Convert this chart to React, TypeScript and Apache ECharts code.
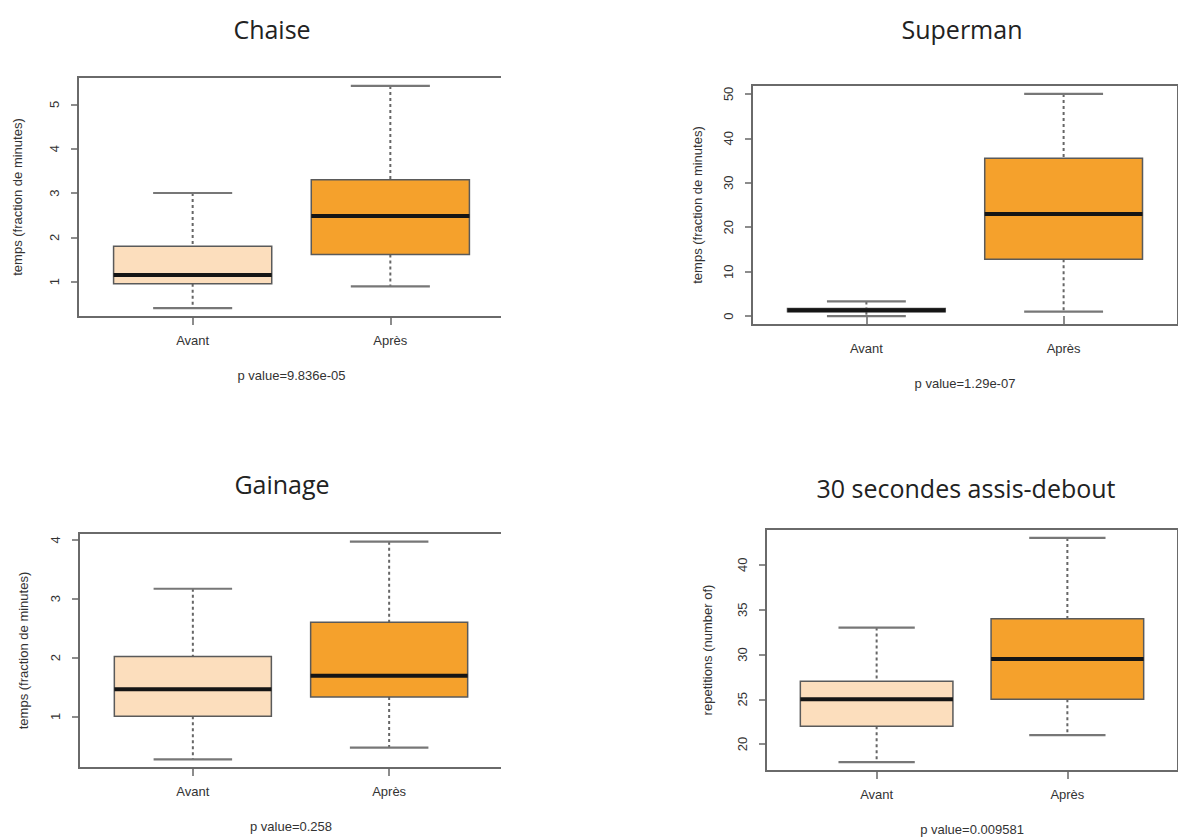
import React, { useEffect, useRef } from 'react';
import * as echarts from 'echarts';

const categories = ['Avant', 'Après'];
const titles = ['Chaise', 'Superman', 'Gainage', '30 secondes assis-debout'];
const yNames = [
  'temps (fraction de minutes)',
  'temps (fraction de minutes)',
  'temps (fraction de minutes)',
  'repetitions (number of)',
];
const pValues = ['p value=9.836e-05', 'p value=1.29e-07', 'p value=0.258', 'p value=0.009581'];

// [low whisker, Q1, median, Q3, high whisker]
const chaiseAvant = [0.4, 0.95, 1.15, 1.8, 3.0];
const chaiseApres = [0.89, 1.61, 2.48, 3.3, 5.42];
const supermanAvant = [0, 1.0, 1.3, 1.7, 3.3];
const supermanApres = [1, 12.8, 23, 35.5, 50];
const gainageAvant = [0.27, 1.0, 1.46, 2.02, 3.17];
const gainageApres = [0.47, 1.33, 1.69, 2.6, 3.97];
const assisAvant = [18, 22, 25, 27, 33];
const assisApres = [21, 25, 29.5, 34, 43];

const panels = [
  [chaiseAvant, chaiseApres],
  [supermanAvant, supermanApres],
  [gainageAvant, gainageApres],
  [assisAvant, assisApres],
];

const yTicks = [
  [1, 2, 3, 4, 5],
  [0, 10, 20, 30, 40, 50],
  [1, 2, 3, 4],
  [20, 25, 30, 35, 40],
];

const fills = ['#FCDEBD', '#F5A12C'];

// layout (pixels)
const grids = [
  { left: 78, top: 77, width: 427, height: 240 },
  { left: 752, top: 85, width: 427, height: 240 },
  { left: 79, top: 533, width: 424, height: 235 },
  { left: 766, top: 529, width: 424, height: 242 },
];
const titlePos = [
  [272, 29],
  [962, 29],
  [282, 484],
  [966, 488],
];
const yNameGap = [54, 48, 49, 52];

const axisFont = '"Liberation Sans", Arial, sans-serif';

export default function App() {
  const ref = useRef<HTMLDivElement>(null);

  useEffect(() => {
    if (!ref.current) return;
    const chart = echarts.init(ref.current, null, { renderer: 'svg' });

    const xAxes: any[] = [];
    const yAxes: any[] = [];
    const series: any[] = [];

    panels.forEach((pair, i) => {
      const all = pair.flat();
      const dmin = Math.min(...all);
      const dmax = Math.max(...all);
      const ext = (dmax - dmin) * 0.04;
      xAxes.push({
        type: 'value',
        gridIndex: i,
        min: 0.42,
        max: 2.58,
        splitLine: { show: false },
        axisLine: { show: false },
        axisTick: {
          show: true,
          customValues: [1, 2],
          length: 8,
          lineStyle: { color: '#666', width: 1.5 },
        },
        axisLabel: {
          customValues: [1, 2],
          formatter: (v: number) => categories[Math.round(v) - 1],
          margin: 17,
          fontFamily: axisFont,
          fontSize: 13,
          color: '#333',
        },
        name: pValues[i],
        nameLocation: 'middle',
        nameGap: 52,
        nameTextStyle: { fontFamily: axisFont, fontSize: 13, color: '#333' },
      });
      yAxes.push({
        type: 'value',
        gridIndex: i,
        min: dmin - ext,
        max: dmax + ext,
        splitLine: { show: false },
        axisLine: { show: false },
        axisTick: {
          show: true,
          customValues: yTicks[i],
          length: 7,
          lineStyle: { color: '#666', width: 1.5 },
        },
        axisLabel: {
          customValues: yTicks[i],
          rotate: 90,
          margin: 17,
          fontFamily: axisFont,
          fontSize: 13,
          color: '#333',
        },
        name: yNames[i],
        nameLocation: 'middle',
        nameGap: yNameGap[i],
        nameRotate: 90,
        nameTextStyle: { fontFamily: axisFont, fontSize: 13, color: '#333' },
      });
      series.push({
        type: 'custom',
        xAxisIndex: i,
        yAxisIndex: i,
        encode: { x: 0, y: [1, 2, 3, 4, 5] },
        data: pair.map((s, k) => [k + 1, ...s]),
        renderItem: (params: any, api: any) => {
          const x = api.value(0);
          const low = api.coord([x, api.value(1)]);
          const q1 = api.coord([x, api.value(2)]);
          const med = api.coord([x, api.value(3)]);
          const q3 = api.coord([x, api.value(4)]);
          const high = api.coord([x, api.value(5)]);
          const halfBox = api.size([0.4, 0])[0];
          const halfCap = halfBox / 2;
          const cx = low[0];
          const whisk = { stroke: '#666', lineWidth: 2, lineDash: [3, 3] };
          const cap = { stroke: '#777', lineWidth: 2.2 };
          return {
            type: 'group',
            children: [
              { type: 'line', shape: { x1: cx, y1: high[1], x2: cx, y2: q3[1] }, style: whisk },
              { type: 'line', shape: { x1: cx, y1: q1[1], x2: cx, y2: low[1] }, style: whisk },
              { type: 'line', shape: { x1: cx - halfCap, y1: high[1], x2: cx + halfCap, y2: high[1] }, style: cap },
              { type: 'line', shape: { x1: cx - halfCap, y1: low[1], x2: cx + halfCap, y2: low[1] }, style: cap },
              {
                type: 'rect',
                shape: { x: cx - halfBox, y: q3[1], width: 2 * halfBox, height: q1[1] - q3[1] },
                style: { fill: fills[params.dataIndex], stroke: '#5a5a5a', lineWidth: 1.5 },
              },
              {
                type: 'line',
                shape: { x1: cx - halfBox, y1: med[1], x2: cx + halfBox, y2: med[1] },
                style: { stroke: '#151515', lineWidth: 4 },
              },
            ],
          };
        },
      });
    });

    const graphics: any[] = titles.map((t, i) => ({
      type: 'text',
      x: titlePos[i][0],
      y: titlePos[i][1],
      style: {
        text: t,
        font: '25px "Open Sans", sans-serif',
        fill: '#222',
        textAlign: 'center',
        textVerticalAlign: 'middle',
      },
    }));
    // the source images are cropped on the right of the left-hand panels
    graphics.push({ type: 'rect', shape: { x: 501, y: 60, width: 30, height: 280 }, style: { fill: '#fff' }, z: 100 });
    graphics.push({ type: 'rect', shape: { x: 501, y: 515, width: 30, height: 270 }, style: { fill: '#fff' }, z: 100 });

    chart.setOption({
      animation: false,
      backgroundColor: '#fff',
      grid: grids.map((g) => ({
        ...g,
        show: true,
        borderColor: '#6a6a6a',
        borderWidth: 2,
        backgroundColor: 'transparent',
      })),
      xAxis: xAxes,
      yAxis: yAxes,
      series,
      graphic: graphics,
    });

    return () => chart.dispose();
  }, []);

  return (
    <div
      ref={ref}
      style={{ position: 'absolute', left: 0, top: 0, width: 1178, height: 840 }}
    />
  );
}
